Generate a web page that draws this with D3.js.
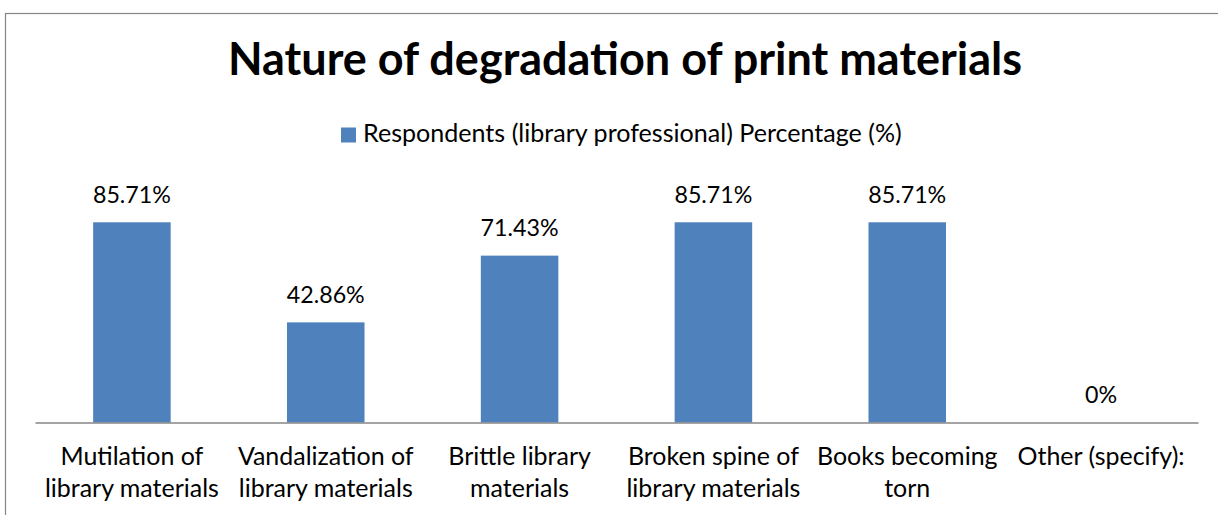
<!DOCTYPE html>
<html>
<head>
<meta charset="utf-8">
<script src="https://cdn.jsdelivr.net/npm/d3@7"></script>
<style>
  html, body { margin: 0; padding: 0; background: #fff; }
  svg { display: block; font-family: Lato, "Open Sans", sans-serif; }
</style>
</head>
<body>
<div id="chart"></div>
<script>
// chart data
const categories = [
  "Mutilation of library materials",
  "Vandalization of library materials",
  "Brittle library materials",
  "Broken spine of library materials",
  "Books becoming torn",
  "Other (specify):"
];
const tickLines = [
  ["Mutilation of", "library materials"],
  ["Vandalization of", "library materials"],
  ["Brittle library", "materials"],
  ["Broken spine of", "library materials"],
  ["Books becoming", "torn"],
  ["Other (specify):"]
];
const values = [85.71, 42.86, 71.43, 85.71, 85.71, 0];
const valueLabels = ["85.71%", "42.86%", "71.43%", "85.71%", "85.71%", "0%"];
const seriesName = "Respondents (library professional) Percentage (%)";
const title = "Nature of degradation of print materials";

const width = 1218, height = 515;
const barColor = "#4F81BD";
const gridGray = "#868686";

const svg = d3.select("#chart").append("svg")
  .attr("width", width)
  .attr("height", height);

// outer chart border (runs off the right and bottom edges)
svg.append("rect")
  .attr("x", 5.5).attr("y", 13.5)
  .attr("width", width + 20).attr("height", height + 20)
  .attr("fill", "none").attr("stroke", gridGray).attr("stroke-width", 1.2);

// fit a text element to a target width by adjusting font size
function fitWidth(sel, target) {
  const node = sel.node();
  const fs = parseFloat(sel.attr("font-size"));
  const w = node.getComputedTextLength();
  sel.attr("font-size", (fs * target / w).toFixed(2));
}

const x = d3.scaleBand()
  .domain(categories)
  .range([35, 1198])
  .paddingInner(0.6)
  .paddingOuter(0.3);

const y = d3.scaleLinear()
  .domain([0, 100])
  .range([422.5, 188.9]);

// title
const t = svg.append("text")
  .attr("x", 625).attr("y", 75)
  .attr("text-anchor", "middle")
  .attr("font-weight", "bold")
  .attr("font-size", 44)
  .attr("fill", "#000")
  .text(title);
fitWidth(t, 794);

// legend
svg.append("rect")
  .attr("x", 341).attr("y", 127.5)
  .attr("width", 15).attr("height", 15)
  .attr("fill", barColor);
const lg = svg.append("text")
  .attr("x", 363).attr("y", 142)
  .attr("font-size", 20)
  .attr("fill", "#000")
  .text(seriesName);
fitWidth(lg, 539);

// bars
svg.append("g")
  .selectAll("rect")
  .data(values)
  .join("rect")
  .attr("x", (d, i) => x(categories[i]))
  .attr("y", d => y(d))
  .attr("width", x.bandwidth())
  .attr("height", d => y(0) - y(d))
  .attr("fill", barColor);

// data labels
const labels = svg.append("g")
  .selectAll("text")
  .data(values)
  .join("text")
  .attr("x", (d, i) => x(categories[i]) + x.bandwidth() / 2)
  .attr("y", d => y(d) - 19.7)
  .attr("text-anchor", "middle")
  .attr("font-size", 20)
  .attr("fill", "#000")
  .text((d, i) => valueLabels[i]);
// scale all data labels using the first one
{
  const first = labels.filter((d, i) => i === 0);
  const w = first.node().getComputedTextLength();
  labels.attr("font-size", (20 * 78 / w).toFixed(2));
}

// x axis
const axis = svg.append("g")
  .attr("transform", `translate(0,${y(0)})`)
  .call(d3.axisBottom(x).tickSize(0).tickFormat(""));
axis.select(".domain").attr("stroke", gridGray).attr("stroke-width", 1.5);

// category labels (two lines)
const tickG = svg.append("g");
tickG.selectAll("text")
  .data(categories)
  .join("text")
  .attr("x", d => x(d) + x.bandwidth() / 2)
  .attr("y", 465)
  .attr("text-anchor", "middle")
  .attr("font-size", 22)
  .attr("fill", "#000")
  .each(function(d, i) {
    d3.select(this).selectAll("tspan")
      .data(tickLines[i])
      .join("tspan")
      .attr("x", x(d) + x.bandwidth() / 2)
      .attr("dy", (s, j) => j === 0 ? 0 : 32)
      .text(s => s);
  });
{
  // measure "library materials" to size the tick font
  const probe = svg.append("text").attr("font-size", 22).text("library materials");
  const w = probe.node().getComputedTextLength();
  probe.remove();
  tickG.selectAll("text").attr("font-size", (22 * 174 / w).toFixed(2));
}
</script>
</body>
</html>
